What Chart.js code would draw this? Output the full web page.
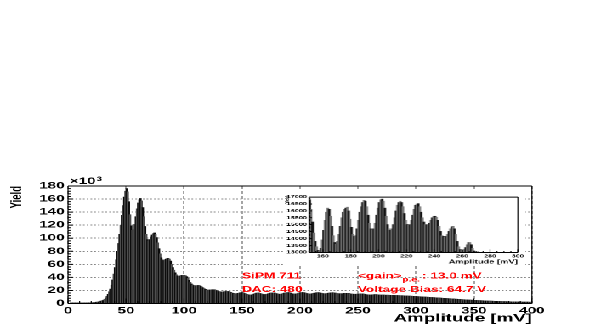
<!DOCTYPE html>
<html lang="en">
<head>
<meta charset="UTF-8">
<meta name="viewport" content="width=device-width, initial-scale=1.0">
<title>SiPM 711 - Amplitude</title>
<script src="https://cdn.jsdelivr.net/npm/chart.js"></script>
<style>
  body { margin: 0; padding: 0; background: #fff; overflow: hidden; }
  #stage { position: absolute; left: 0; top: 0; height: 327px; transform-origin: 0 0; }
  .box { position: absolute; }
  #insetBox { background: #fff; }
</style>
</head>
<body>
<div id="stage">
  <div class="box" id="mainBox"><canvas id="mainCanvas"></canvas></div>
  <div class="box" id="insetBox"><canvas id="insetCanvas"></canvas></div>
</div>

<script>
// histogram: 1 mV bins starting at 0 mV
const amplitudeStart = 0;
const binWidth = 1;
const yieldCounts = [
  0, 0, 100, 100, 200, 300, 300, 400, 400, 500,
  500, 600, 600, 700, 700, 800, 900, 900, 1000, 1100,
  1200, 1300, 1500, 1700, 1900, 2200, 2600, 3100, 3700, 4300,
  5000, 6500, 8500, 11000, 14000, 18000, 22000, 28000, 36000, 45000,
  55000, 67000, 80000, 92000, 106000, 120000, 135000, 150000, 163000, 172000,
  176000, 171000, 156000, 136000, 119000, 112000, 113000, 121000, 133000, 145000,
  154000, 159000, 161000, 157000, 147000, 133000, 118000, 106000, 98000, 96000,
  98000, 102000, 105000, 107000, 108000, 106000, 101000, 93000, 84000, 76000,
  70000, 67000, 66000, 67000, 68000, 69000, 69000, 68000, 65000, 60000,
  55000, 51000, 47000, 44000, 42000, 42000, 42000, 43000, 43000, 43000,
  43000, 42500, 41000, 38500, 35500, 32500, 30000, 28500, 27500, 27200,
  27300, 27500, 27600, 27300, 26500, 25300, 24000, 22800, 21800, 21000,
  20600, 20500, 20700, 21000, 21200, 21200, 20900, 20300, 19600, 18900,
  18300, 17900, 17700, 17800, 18000, 18300, 18500, 18500, 18200, 17600,
  16900, 16200, 15600, 15200, 15000, 15100, 15500, 16000, 16500, 16800,
  16800, 16100, 15200, 14400, 13800, 13400, 13150, 13100, 13300, 13900,
  14600, 15300, 15900, 16200, 16100, 15600, 14900, 14200, 13700, 13600,
  13800, 14300, 14900, 15500, 15900, 16100, 16200, 16270, 16000, 15400,
  14800, 14300, 14150, 14200, 14700, 15300, 15900, 16300, 16600, 16760,
  16700, 16300, 15700, 15100, 14700, 14600, 14700, 15100, 15700, 16200,
  16600, 16800, 16850, 16700, 16200, 15600, 15000, 14700, 14600, 14700,
  15000, 15500, 16000, 16400, 16600, 16690, 16600, 16300, 15800, 15300,
  15000, 14950, 15000, 15300, 15700, 16100, 16400, 16500, 16520, 16300,
  15900, 15500, 15200, 15000, 14990, 15000, 15100, 15300, 15500, 15600,
  15600, 15550, 15300, 14900, 14500, 14200, 14150, 14100, 14150, 14300,
  14500, 14700, 14850, 14870, 14700, 14300, 13800, 13400, 13200, 13180,
  13150, 13200, 13350, 13550, 13700, 13710, 13550, 13300, 13100, 12950,
  12900, 13050, 12900, 12800, 12750, 12700, 12650, 12600, 12550, 12500,
  12450, 12400, 12300, 12250, 12200, 12100, 12000, 11950, 11850, 11750,
  11700, 11600, 11500, 11400, 11300, 11250, 11150, 11050, 10950, 10850,
  10750, 10600, 10500, 10400, 10300, 10150, 10050, 9950, 9850, 9700,
  9600, 9500, 9350, 9250, 9100, 9000, 8900, 8750, 8650, 8500,
  8400, 8250, 8150, 8000, 7900, 7750, 7650, 7500, 7400, 7250,
  7150, 7000, 6900, 6750, 6650, 6500, 6400, 6250, 6150, 6000,
  5900, 5800, 5650, 5550, 5450, 5350, 5250, 5150, 5050, 4950,
  4850, 4750, 4650, 4550, 4450, 4400, 4300, 4200, 4100, 4050,
  3950, 3850, 3800, 3700, 3650, 3550, 3500, 3400, 3350, 3300,
  3200, 3150, 3100, 3050, 3000, 2950, 2900, 2850, 2800, 2750,
  2700, 2650, 2600, 2550, 2500, 2500, 2450, 2400, 2350, 2300,
  2300, 2250, 2200, 2200, 2150, 2100, 2100, 2050, 2000, 2000
];

const mainXRange = [0, 400];
const mainYRange = [0, 180000];
const mainXTicks = [0, 50, 100, 150, 200, 250, 300, 350, 400];
const mainYTicks = [0, 20000, 40000, 60000, 80000, 100000, 120000, 140000, 160000, 180000];

const insetXRange = [150, 300];
const insetYRange = [13000, 17000];
const insetXTicks = [160, 180, 200, 220, 240, 260, 280, 300];
const insetYTicks = [13000, 13500, 14000, 14500, 15000, 15500, 16000, 16500, 17000];

const infoLeft = ['SiPM 711', 'DAC: 480'];
const infoGain = ['<gain>', 'p.e.', ' : 13.0 mV'];
const infoBias = 'Voltage Bias: 64.7 V';

// the reference picture is stretched sideways, so the whole stage is too
const SX = 1.7;
const FONT = '"Liberation Sans", Arial, Helvetica, sans-serif';

const stage = document.getElementById('stage');
stage.style.width = (599 / SX) + 'px';
stage.style.transform = 'scaleX(' + SX + ')';

function place(id, left, top, right, bottom) {
    const el = document.getElementById(id);
    el.style.left = (left / SX) + 'px';
    el.style.top = top + 'px';
    el.style.width = ((right - left) / SX) + 'px';
    el.style.height = (bottom - top) + 'px';
}
place('mainBox', 0, 0, 599, 327);
place('insetBox', 284, 191, 525, 265.5);

const points = yieldCounts.map((v, i) => ({ x: amplitudeStart + (i + 0.5) * binWidth, y: v }));
const barColour = c => (c.dataIndex % 2 ? '#4e4e4e' : '#0c0c0c');
const insetBarColour = c => (c.dataIndex % 2 ? '#777777' : '#141414');

// full box round the plot area
const framePlugin = {
    id: 'frame',
    afterDatasetsDraw(chart) {
        const { ctx, chartArea: a } = chart;
        ctx.save();
        ctx.strokeStyle = '#000';
        ctx.lineWidth = 1;
        ctx.beginPath();
        ctx.moveTo(a.left, a.top); ctx.lineTo(a.right, a.top);
        ctx.moveTo(a.left, a.bottom); ctx.lineTo(a.right, a.bottom);
        ctx.stroke();
        ctx.lineWidth = 1 / SX;
        ctx.beginPath();
        ctx.moveTo(a.left, a.top); ctx.lineTo(a.left, a.bottom);
        ctx.moveTo(a.right, a.top); ctx.lineTo(a.right, a.bottom);
        ctx.stroke();
        ctx.restore();
    }
};

// ROOT style tick marks pointing into the frame
const innerTicksPlugin = {
    id: 'innerTicks',
    afterDatasetsDraw(chart, args, opts) {
        const { ctx, chartArea: a, scales: { x, y } } = chart;
        const isMajor = (v, step) => Math.abs(v / step - Math.round(v / step)) < 1e-6;
        ctx.save();
        ctx.strokeStyle = '#000';
        ctx.lineWidth = 1;
        ctx.beginPath();
        for (let v = Math.ceil(y.min / opts.yMinor) * opts.yMinor; v <= y.max; v += opts.yMinor) {
            const py = y.getPixelForValue(v);
            const len = (isMajor(v, opts.yMajor) ? opts.len : opts.len / 2) / SX;
            ctx.moveTo(a.left, py); ctx.lineTo(a.left + len, py);
        }
        ctx.stroke();
        ctx.lineWidth = 1 / SX;
        ctx.beginPath();
        for (let v = Math.ceil(x.min / opts.xMinor) * opts.xMinor; v <= x.max; v += opts.xMinor) {
            const px = x.getPixelForValue(v);
            const len = isMajor(v, opts.xMajor) ? opts.len : opts.len / 2;
            ctx.moveTo(px, a.bottom); ctx.lineTo(px, a.bottom - len);
        }
        ctx.stroke();
        ctx.restore();
    }
};

// exponent and the red run information
const notesPlugin = {
    id: 'notes',
    afterDraw(chart) {
        const { ctx, chartArea: a, scales: { x, y } } = chart;
        ctx.save();
        ctx.textBaseline = 'alphabetic';
        ctx.fillStyle = '#000';
        ctx.font = 'bold 9px ' + FONT;
        ctx.fillText('\u00d710', a.left + 1, a.top - 2);
        const w = ctx.measureText('\u00d710').width;
        ctx.font = 'bold 6px ' + FONT;
        ctx.fillText('3', a.left + 1.5 + w, a.top - 5);

        ctx.fillStyle = '#ff0000';
        ctx.font = 'bold 8px ' + FONT;
        const x1 = x.getPixelForValue(150);
        const x2 = x.getPixelForValue(250);
        const yTop = y.getPixelForValue(38000);
        const yLow = y.getPixelForValue(18000);
        ctx.fillText(infoLeft[0], x1, yTop);
        ctx.fillText(infoLeft[1], x1, yLow);

        let cx = x2;
        ctx.fillText(infoGain[0], cx, yTop);
        cx += ctx.measureText(infoGain[0]).width + 0.3;
        ctx.font = 'bold 6px ' + FONT;
        ctx.fillText(infoGain[1], cx, yTop + 3);
        cx += ctx.measureText(infoGain[1]).width - 1;
        ctx.font = 'bold 8px ' + FONT;
        ctx.fillText(infoGain[2], cx, yTop);
        ctx.fillText(infoBias, x2, yLow);
        ctx.restore();
    }
};

// draws the tiny inset axis texts itself so they sit where ROOT put them
const insetLabelsPlugin = {
    id: 'insetLabels',
    afterDraw(chart) {
        const { ctx, chartArea: a, scales: { x, y } } = chart;
        ctx.save();
        ctx.fillStyle = '#000';
        ctx.font = 'bold 4.3px ' + FONT;
        ctx.textAlign = 'center';
        ctx.textBaseline = 'top';
        insetXTicks.forEach(v => ctx.fillText(String(v), x.getPixelForValue(v), a.bottom + 1.5));
        ctx.textAlign = 'right';
        ctx.textBaseline = 'middle';
        insetYTicks.forEach(v => ctx.fillText(String(v), a.left - 1.2, y.getPixelForValue(v)));
        ctx.font = 'bold 5.5px ' + FONT;
        ctx.textBaseline = 'top';
        ctx.fillText('Amplitude [mV]', a.right, a.bottom + 6.5);
        ctx.translate(a.left - 14, a.top - 1);
        ctx.rotate(-Math.PI / 2);
        ctx.font = 'bold 3.2px ' + FONT;
        ctx.textAlign = 'right';
        ctx.fillText('Yield', 0, 0);
        ctx.restore();
    }
};

const mainChart = new Chart(document.getElementById('mainCanvas'), {
    type: 'bar',
    data: {
        datasets: [{
            data: points,
            backgroundColor: barColour,
            borderWidth: 0,
            barPercentage: 1,
            categoryPercentage: 1
        }]
    },
    options: {
        responsive: true,
        maintainAspectRatio: false,
        animation: false,
        events: [],
        devicePixelRatio: 2,
        layout: { padding: { left: 0, top: 186, right: (599 - 532) / SX, bottom: 0 } },
        plugins: {
            legend: { display: false },
            tooltip: { enabled: false },
            innerTicks: { xMinor: 10, xMajor: 50, yMinor: 4000, yMajor: 20000, len: 5 }
        },
        scales: {
            x: {
                type: 'linear',
                offset: false,
                min: mainXRange[0],
                max: mainXRange[1],
                afterBuildTicks: s => { s.ticks = mainXTicks.map(v => ({ value: v })); },
                afterFit: s => { s.height = 327 - 303.5; },
                ticks: {
                    color: '#000',
                    font: { family: FONT, size: 9, weight: 'bold' },
                    padding: 2,
                    maxRotation: 0,
                    autoSkip: false
                },
                title: {
                    display: true,
                    text: 'Amplitude [mV]',
                    align: 'end',
                    color: '#000',
                    font: { family: FONT, size: 11, weight: 'bold' },
                    padding: { top: 0, bottom: 2 }
                },
                grid: { offset: false, color: '#666', lineWidth: 1 / SX, drawTicks: false },
                border: { display: false, dash: [3, 2] }
            },
            y: {
                min: mainYRange[0],
                max: mainYRange[1],
                afterBuildTicks: s => { s.ticks = mainYTicks.map(v => ({ value: v })); },
                afterFit: s => { s.width = 68 / SX; },
                ticks: {
                    color: '#000',
                    font: { family: FONT, size: 9, weight: 'bold' },
                    padding: 2,
                    autoSkip: false,
                    callback: v => v / 1000
                },
                title: {
                    display: true,
                    text: 'Yield',
                    align: 'end',
                    color: '#000',
                    font: { family: FONT, size: 9.5, weight: 'bold' },
                    padding: { top: 4, bottom: 0 }
                },
                grid: { color: '#888', lineWidth: 1, drawTicks: false },
                border: { display: false, dash: [1, 1.2] }
            }
        }
    },
    plugins: [framePlugin, innerTicksPlugin, notesPlugin]
});

const insetPoints = points.filter(p => p.x > insetXRange[0] && p.x < insetXRange[1]);

const insetChart = new Chart(document.getElementById('insetCanvas'), {
    type: 'bar',
    data: {
        datasets: [{
            data: insetPoints,
            backgroundColor: insetBarColour,
            borderWidth: 0,
            barPercentage: 1,
            categoryPercentage: 1
        }]
    },
    options: {
        responsive: true,
        maintainAspectRatio: false,
        animation: false,
        events: [],
        devicePixelRatio: 2,
        layout: { padding: { left: 0, top: 6, right: (525 - 517) / SX, bottom: 0 } },
        plugins: {
            legend: { display: false },
            tooltip: { enabled: false },
            innerTicks: { xMinor: 5, xMajor: 20, yMinor: 100, yMajor: 500, len: 3 }
        },
        scales: {
            x: {
                type: 'linear',
                offset: false,
                min: insetXRange[0],
                max: insetXRange[1],
                afterBuildTicks: s => { s.ticks = insetXTicks.map(v => ({ value: v })); },
                afterFit: s => { s.height = 265.5 - 252; },
                ticks: { display: false },
                grid: { display: false, offset: false },
                border: { display: false }
            },
            y: {
                min: insetYRange[0],
                max: insetYRange[1],
                afterBuildTicks: s => { s.ticks = insetYTicks.map(v => ({ value: v })); },
                afterFit: s => { s.width = (309 - 284) / SX; },
                ticks: { display: false },
                grid: { display: false },
                border: { display: false }
            }
        }
    },
    plugins: [framePlugin, innerTicksPlugin, insetLabelsPlugin]
});
</script>
</body>
</html>
